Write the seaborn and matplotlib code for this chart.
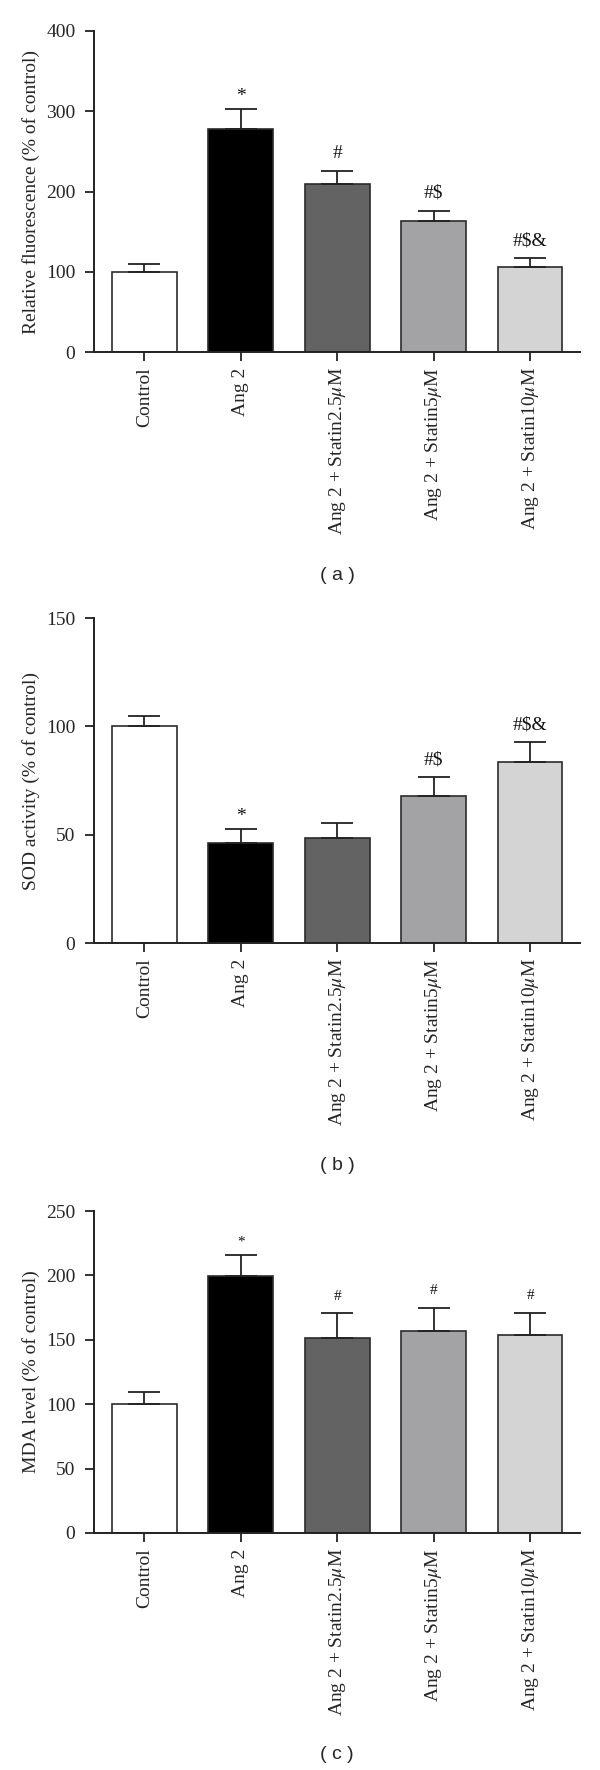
import numpy as np
import matplotlib
matplotlib.use("Agg")
import matplotlib.pyplot as plt
import seaborn as sns

# groups on the x axis (same for all three panels)
groups = [
    "Control",
    "Ang 2",
    r"Ang 2 + Statin2.5$\mu$M",
    r"Ang 2 + Statin5$\mu$M",
    r"Ang 2 + Statin10$\mu$M",
]
bar_colors = ["#ffffff", "#000000", "#636363", "#a3a3a7", "#d4d4d4"]

# (a) relative fluorescence
fluor_mean = [100, 278, 209, 163, 106]
fluor_err = [9.5, 25, 17, 13, 11]
fluor_marks = ["", "*", "#", r"#\$", r"#\$&"]

# (b) SOD activity
sod_mean = [100, 46, 48.5, 68, 83.5]
sod_err = [5, 6.7, 7, 8.7, 9.2]
sod_marks = ["", "*", "", r"#\$", r"#\$&"]

# (c) MDA level
mda_mean = [100, 199.5, 151.5, 156.5, 153.5]
mda_err = [9.5, 16.5, 19, 18, 17.5]
mda_marks = ["", "*", "#", "#", "#"]

sns.set_style("ticks")
plt.rcParams["font.family"] = ["Liberation Serif", "DejaVu Serif"]
plt.rcParams["mathtext.fontset"] = "stix"
plt.rcParams["axes.linewidth"] = 1.4
plt.rcParams["axes.edgecolor"] = "#222222"

fig = plt.figure(figsize=(6, 17.7), dpi=100)

panels = [
    # mean, err, marks, ylabel, ylim, ticks, axes rect, letter, letter y, mark size
    (fluor_mean, fluor_err, fluor_marks, "Relative fluorescence (% of control)",
     400, [0, 100, 200, 300, 400], [0.157, 0.8011, 0.81, 0.1814], "( a )", 0.670, 14),
    (sod_mean, sod_err, sod_marks, "SOD activity (% of control)",
     150, [0, 50, 100, 150], [0.157, 0.4672, 0.81, 0.1836], "( b )", 0.337, 14),
    (mda_mean, mda_err, mda_marks, "MDA level (% of control)",
     250, [0, 50, 100, 150, 200, 250], [0.157, 0.1339, 0.81, 0.1819], "( c )", 0.004, 11),
]

for mean, err, marks, ylabel, ymax, ticks, rect, letter, ly, msize in panels:
    ax = fig.add_axes(rect)
    sns.barplot(x=groups, y=mean, hue=groups, palette=bar_colors, legend=False,
                errorbar=None, width=0.67, edgecolor="#2b2b2b", linewidth=1.2,
                ax=ax)
    ax.errorbar(range(len(groups)), mean, yerr=[np.zeros(len(mean)), err],
                fmt="none", ecolor="#222222", elinewidth=1.3, capsize=11.5,
                capthick=1.3, zorder=1)
    for i, m in enumerate(marks):
        if m:
            off = 9 if m == "*" else 12.5
            ax.annotate(m, (i, mean[i] + err[i]), xytext=(0, off),
                        textcoords="offset points", ha="center", va="center",
                        fontsize=msize, color="#111111")
    ax.set_ylim(0, ymax)
    ax.set_yticks(ticks)
    ax.set_xlim(-0.52, 4.52)
    ax.set_ylabel(ylabel, fontsize=14)
    ax.yaxis.set_label_coords(-0.112, 0.5)
    ax.set_xlabel("")
    ax.tick_params(axis="both", labelsize=14, length=6.5, width=1.3,
                   color="#222222")
    ax.tick_params(axis="y", pad=7)
    ax.tick_params(axis="x", labelrotation=90, pad=4.5)
    sns.despine(ax=ax)
    fig.text(rect[0] + rect[2] / 2, ly, letter, ha="center", va="bottom",
             fontsize=14, family=["Liberation Sans", "DejaVu Sans"])

fig.savefig("out.png", dpi=100)
